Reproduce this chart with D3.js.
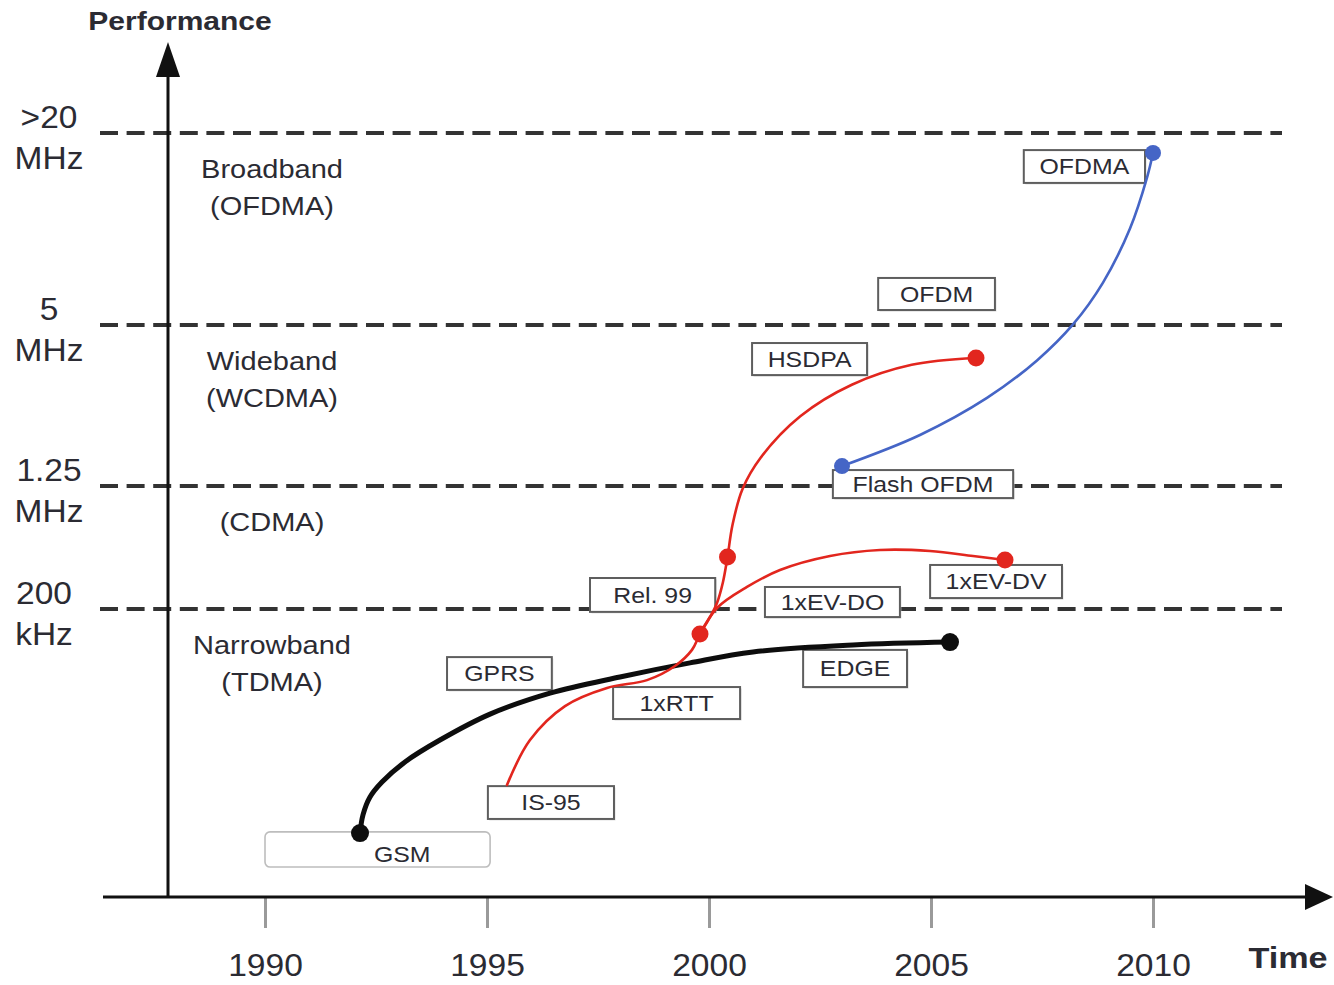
<!DOCTYPE html>
<html>
<head>
<meta charset="utf-8">
<script src="https://cdn.jsdelivr.net/npm/d3@7/dist/d3.min.js"></script>
<style>
  html, body { margin: 0; padding: 0; background: #ffffff; }
  svg { display: block; }
  text { font-family: "Liberation Sans", Arial, Helvetica, sans-serif; fill: #2b2b33; }
</style>
</head>
<body>
<svg id="chart" width="1334" height="985"></svg>
<script>
// ---------------- data ----------------
const tickYears = [1990, 1995, 2000, 2005, 2010];

// performance levels (dashed lines) and their labels
const levelValues = [1, 2, 3, 4];
const levelLabels = [["200", "kHz"], ["1.25", "MHz"], ["5", "MHz"], [">20", "MHz"]];
const bandLabels  = [["Narrowband", "(TDMA)"], ["(CDMA)"], ["Wideband", "(WCDMA)"], ["Broadband", "(OFDMA)"]];

// GSM / GPRS / EDGE (black)
const gsmYears = [1992.140, 1992.207, 1992.365, 1992.635, 1993.153, 1993.941, 1995.068, 1996.419, 1997.995, 1999.572, 2000.991, 2003.243, 2005.428];
const gsmPerf  = [0.222, 0.285, 0.347, 0.399, 0.469, 0.545, 0.635, 0.708, 0.764, 0.813, 0.851, 0.875, 0.885];
const gsmDots  = [0, 12];

// IS-95 -> 1xRTT -> Rel.99 -> HSDPA (red)
const wcdmaYears = [1995.450, 1995.968, 1996.757, 1997.703, 1998.604, 1999.234, 1999.617, 1999.797, 2000.023, 2000.180, 2000.315, 2000.417, 2000.529, 2000.755, 2001.167, 2002.056, 2003.216, 2004.565, 2006.014];
const wcdmaPerf  = [0.389, 0.545, 0.663, 0.726, 0.753, 0.802, 0.858, 0.913, 0.972, 1.049, 1.220, 1.423, 1.683, 1.976, 2.177, 2.433, 2.629, 2.753, 2.795];
const wcdmaDots  = [7, 11, 18];

// 1xEV-DO -> 1xEV-DV branch (red)
const evYears = [1999.797, 2000.180, 2000.856, 2001.599, 2002.725, 2003.851, 2004.977, 2005.946, 2006.667];
const evPerf  = [0.913, 1.008, 1.179, 1.317, 1.431, 1.480, 1.472, 1.431, 1.398];
const evDots  = [8];

// Flash OFDM -> OFDMA (blue)
const ofdmYears = [2002.995, 2004.752, 2006.261, 2007.387, 2008.198, 2008.874, 2009.482, 2009.865, 2010.000];
const ofdmPerf  = [2.124, 2.317, 2.547, 2.780, 3.003, 3.221, 3.503, 3.768, 3.896];
const ofdmDots  = [0, 8];

// technology boxes: label, year span, performance span
const boxLabels = ["OFDMA", "OFDM", "HSDPA", "Flash OFDM", "Rel. 99", "1xEV-DO", "1xEV-DV", "GPRS", "1xRTT", "EDGE", "IS-95", "GSM"];
const boxYear0  = [2007.09, 2003.81, 2000.97, 2002.79, 1997.32, 2001.26, 2004.98, 1994.10, 1997.84, 2002.12, 1995.02, 1990.00];
const boxYear1  = [2009.82, 2006.44, 2003.56, 2006.85, 2000.14, 2004.30, 2007.95, 1996.46, 2000.70, 2004.46, 1997.86, 1995.07];
const boxPerf0  = [3.740, 3.078, 2.689, 1.902, 0.990, 0.972, 1.089, 0.719, 0.618, 0.729, 0.271, 0.104];
const boxPerf1  = [3.911, 3.245, 2.888, 2.099, 1.252, 1.179, 1.358, 0.833, 0.729, 0.858, 0.385, 0.226];
// GSM label text sits off-centre in its box
const gsmTextYear = 1993.09, gsmTextPerf = 0.148;

// ---------------- scales ----------------
const svg = d3.select("#chart");
const x = d3.scaleLinear().domain([1990, 2010]).range([265, 1153]);
const y = d3.scaleLinear().domain([0, 1, 2, 3, 4]).range([897, 609, 486, 325, 133]);

const axisX = 168, axisY = y(0);
const dashX0 = 100, dashX1 = 1282;

function addText(g, str, px, py, size, opts = {}) {
  const sx = opts.sx || 1;
  return g.append("text")
    .attr("transform", `translate(${px},${py}) scale(${sx},1)`)
    .attr("text-anchor", opts.anchor || "middle")
    .attr("font-size", size)
    .attr("font-weight", opts.weight || "normal")
    .text(str);
}

// ---------------- dashed level lines ----------------
svg.append("g").selectAll("line").data(levelValues).join("line")
  .attr("x1", dashX0).attr("x2", dashX1)
  .attr("y1", d => y(d)).attr("y2", d => y(d))
  .attr("stroke", "#333").attr("stroke-width", 4)
  .attr("stroke-dasharray", "18 8.6");

// ---------------- axes ----------------
const xAxis = d3.axisBottom(x).tickValues(tickYears).tickFormat(d3.format("d"))
  .tickSize(31).tickPadding(25);
const gx = svg.append("g").attr("transform", `translate(0,${axisY})`).call(xAxis);
gx.select(".domain").remove();
gx.selectAll(".tick line").attr("stroke", "#9a9a9a").attr("stroke-width", 3);
gx.selectAll(".tick text")
  .attr("font-size", 32)
  .attr("font-family", "'Liberation Sans', Arial, sans-serif")
  .attr("fill", "#2b2b38")
  .attr("transform", "scale(1.05,1)");

// x axis line + arrow
svg.append("line").attr("x1", 103).attr("x2", 1310).attr("y1", axisY).attr("y2", axisY)
  .attr("stroke", "#111").attr("stroke-width", 3);
svg.append("path").attr("d", `M1333,${axisY} L1305,${axisY - 13} L1305,${axisY + 13} Z`).attr("fill", "#111");
// y axis line + arrow
svg.append("line").attr("x1", axisX).attr("x2", axisX).attr("y1", axisY).attr("y2", 70)
  .attr("stroke", "#111").attr("stroke-width", 3);
svg.append("path").attr("d", `M${axisX},42 L${axisX - 12},77 L${axisX + 12},77 Z`).attr("fill", "#111");

// axis titles
addText(svg, "Performance", 180, 30, 25, { weight: "bold", sx: 1.2 });
addText(svg, "Time", 1288, 968, 30, { weight: "bold", sx: 1.14 });

// level labels (left) and band labels
const gl = svg.append("g");
levelValues.forEach((v, i) => {
  const cx = i === 0 ? 44 : 49;
  addText(gl, levelLabels[i][0], cx, y(v) - 5, 31, { sx: 1.08 });
  addText(gl, levelLabels[i][1], cx, y(v) + 36, 31, { sx: 1.08 });
  bandLabels[i].forEach((s, j) => {
    addText(gl, s, 272, y(v) + 45 + j * 37, 25, { sx: 1.16 });
  });
});

// ---------------- technology boxes ----------------
const gb = svg.append("g");
boxLabels.forEach((lab, i) => {
  const x0 = x(boxYear0[i]), x1 = x(boxYear1[i]);
  const y0 = y(boxPerf1[i]), y1 = y(boxPerf0[i]);
  const isGsm = lab === "GSM";
  gb.append("rect")
    .attr("x", x0 + 1.5).attr("y", y0 + 1.5).attr("width", x1 - x0).attr("height", y1 - y0)
    .attr("fill", "#cfcfcf").attr("opacity", isGsm ? 0 : 0.7).attr("rx", isGsm ? 5 : 0);
  gb.append("rect")
    .attr("x", x0).attr("y", y0).attr("width", x1 - x0).attr("height", y1 - y0)
    .attr("fill", "#fff")
    .attr("stroke", isGsm ? "#bdbdbd" : "#5e5e5e")
    .attr("stroke-width", isGsm ? 1.6 : 2)
    .attr("rx", isGsm ? 5 : 0);
  const tx = isGsm ? x(gsmTextYear) : (x0 + x1) / 2;
  const ty = isGsm ? y(gsmTextPerf) : (y0 + y1) / 2;
  addText(gb, lab, tx, ty + 7.7, 22, { sx: 1.13 }).attr("fill", "#333");
});

// ---------------- curves ----------------
const line = d3.line().x(d => x(d[0])).y(d => y(d[1])).curve(d3.curveCatmullRom.alpha(0.5));
const series = [
  { yrs: gsmYears,   perf: gsmPerf,   dots: gsmDots,   color: "#0d0d0d", width: 5,   r: 9 },
  { yrs: evYears,    perf: evPerf,    dots: evDots,    color: "#e2261e", width: 2.6, r: 8.5 },
  { yrs: wcdmaYears, perf: wcdmaPerf, dots: wcdmaDots, color: "#e2261e", width: 2.6, r: 8.5 },
  { yrs: ofdmYears,  perf: ofdmPerf,  dots: ofdmDots,  color: "#4565c6", width: 2.6, r: 8 }
];
const gc = svg.append("g");
series.forEach(s => {
  const pts = s.yrs.map((yr, i) => [yr, s.perf[i]]);
  gc.append("path").attr("d", line(pts)).attr("fill", "none")
    .attr("stroke", s.color).attr("stroke-width", s.width)
    .attr("stroke-linecap", "round").attr("stroke-linejoin", "round");
});
series.forEach(s => {
  gc.selectAll(null).data(s.dots).join("circle")
    .attr("cx", i => x(s.yrs[i])).attr("cy", i => y(s.perf[i]))
    .attr("r", s.r).attr("fill", s.color);
});
</script>
</body>
</html>
